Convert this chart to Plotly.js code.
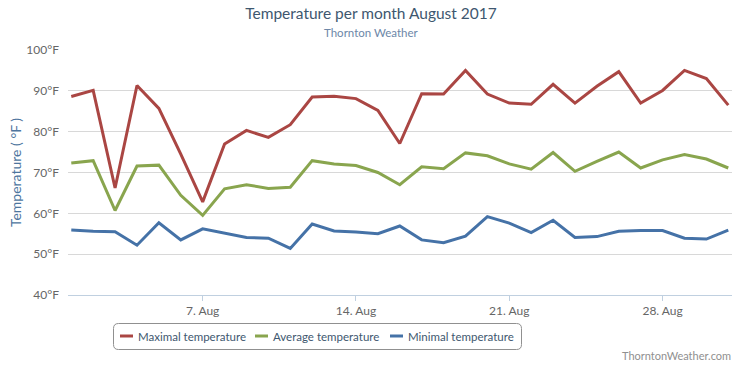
<!DOCTYPE html>
<html>
<head>
<meta charset="utf-8">
<script src="https://cdn.plot.ly/plotly-3.0.1.min.js"></script>
<style>
  html, body { margin: 0; padding: 0; background: #ffffff; }
  #chart { width: 741px; height: 365px; }
</style>
</head>
<body>
<div id="chart"></div>
<script>
// ---- data ----
var days = [1,2,3,4,5,6,7,8,9,10,11,12,13,14,15,16,17,18,19,20,21,22,23,24,25,26,27,28,29,30,31];
var maxTemp = [88.6, 90.1, 66.2, 91.3, 85.7, 74.5, 62.8, 77.0, 80.3, 78.6, 81.7, 88.5, 88.7, 88.1, 85.2, 77.1,
               89.3, 89.2, 95.0, 89.2, 87.0, 86.7, 91.6, 87.0, 91.1, 94.7, 87.0, 90.1, 95.0, 93.0, 86.5];
var avgTemp = [72.3, 72.9, 60.7, 71.6, 71.8, 64.4, 59.5, 66.0, 67.0, 66.1, 66.4, 72.9, 72.1, 71.7, 70.0, 67.0,
               71.4, 70.9, 74.8, 74.1, 72.1, 70.8, 74.9, 70.3, 72.7, 75.0, 71.1, 73.1, 74.4, 73.3, 71.1];
var minTemp = [55.9, 55.6, 55.5, 52.2, 57.7, 53.5, 56.2, 55.1, 54.1, 53.9, 51.4, 57.4, 55.7, 55.4, 55.0, 56.9,
               53.5, 52.8, 54.4, 59.2, 57.6, 55.3, 58.3, 54.1, 54.3, 55.6, 55.8, 55.8, 53.9, 53.7, 55.9];
var seriesNames = ["Maximal temperature", "Average temperature", "Minimal temperature"];
var xTickVals = [7, 14, 21, 28];
var xTickText = ["7. Aug", "14. Aug", "21. Aug", "28. Aug"];
var yTickVals = [40, 50, 60, 70, 80, 90, 100];
var yTickText = ["40°F", "50°F", "60°F", "70°F", "80°F", "90°F", "100°F"];

// ---- styling ----
var colors = ["#AA4643", "#89A54E", "#4572A7"];
var FONT = "Lato, 'Open Sans', sans-serif";

var W = 741, H = 365;
var M = {l: 68, r: 9, t: 50, b: 70};
var PW = W - M.l - M.r, PH = H - M.t - M.b;
function px(x) { return (x - M.l) / PW; }
function py(y) { return (H - M.b - y) / PH; }

var seriesData = [maxTemp, avgTemp, minTemp];
var traces = seriesData.map(function (vals, i) {
  return {
    x: days, y: vals, type: "scatter", mode: "lines",
    name: seriesNames[i],
    line: {color: colors[i], width: 3},
    hoverinfo: "skip", showlegend: false
  };
});

// rounded legend box
function roundRect(x0, y0, x1, y1, r) {
  return "M" + px(x0 + r) + "," + py(y0) +
         " L" + px(x1 - r) + "," + py(y0) +
         " Q" + px(x1) + "," + py(y0) + " " + px(x1) + "," + py(y0 + r) +
         " L" + px(x1) + "," + py(y1 - r) +
         " Q" + px(x1) + "," + py(y1) + " " + px(x1 - r) + "," + py(y1) +
         " L" + px(x0 + r) + "," + py(y1) +
         " Q" + px(x0) + "," + py(y1) + " " + px(x0) + "," + py(y1 - r) +
         " L" + px(x0) + "," + py(y0 + r) +
         " Q" + px(x0) + "," + py(y0) + " " + px(x0 + r) + "," + py(y0) + " Z";
}

var shapes = [{
  type: "path", xref: "paper", yref: "paper",
  path: roundRect(113.5, 323.5, 521.5, 349.5, 5),
  line: {color: "#909090", width: 1}, fillcolor: "rgba(0,0,0,0)"
}];
var annotations = [];
var legendX = [120, 255, 390];
var legendY = 336;
for (var i = 0; i < 3; i++) {
  shapes.push({
    type: "line", xref: "paper", yref: "paper",
    x0: px(legendX[i]), x1: px(legendX[i] + 13), y0: py(legendY), y1: py(legendY),
    line: {color: colors[i], width: 3}
  });
  annotations.push({
    xref: "paper", yref: "paper", x: px(legendX[i] + 16), y: py(legendY),
    xanchor: "left", yanchor: "middle", showarrow: false,
    text: seriesNames[i],
    font: {family: FONT, size: 11.5, color: "#3E576F"}
  });
}
annotations.push({
  xref: "paper", yref: "paper", x: px(371), y: py(32.5),
  xanchor: "center", yanchor: "middle", showarrow: false,
  text: "Thornton Weather",
  font: {family: FONT, size: 11.5, color: "#6D87A8"}
});
annotations.push({
  xref: "paper", yref: "paper", x: px(733), y: py(356),
  xanchor: "right", yanchor: "middle", showarrow: false,
  text: "ThorntonWeather.com",
  font: {family: FONT, size: 11, color: "#909090"}
});

var layout = {
  width: W, height: H,
  margin: M,
  paper_bgcolor: "#ffffff", plot_bgcolor: "#ffffff",
  title: {
    text: "Temperature per month August 2017",
    x: 371 / W, xref: "container", xanchor: "center",
    y: 1 - 14 / H, yref: "container", yanchor: "middle",
    font: {family: FONT, size: 15.5, color: "#3E576F"}
  },
  xaxis: {
    range: [0.85, 31.17],
    tickvals: xTickVals, ticktext: xTickText,
    ticks: "outside", ticklen: 5, tickcolor: "#C0D0E0", tickwidth: 1,
    showline: true, linecolor: "#C0D0E0", linewidth: 1,
    showgrid: false, zeroline: false, fixedrange: true,
    ticklabelstandoff: 0,
    tickfont: {family: FONT, size: 12, color: "#666666"}
  },
  yaxis: {
    range: [40, 100],
    tickvals: yTickVals, ticktext: yTickText,
    showgrid: true, gridcolor: "#D8D8D8", gridwidth: 1,
    showline: false, zeroline: false, ticks: "", ticklabelstandoff: 8,
    fixedrange: true,
    tickfont: {family: FONT, size: 12, color: "#666666"},
    title: {
      text: "Temperature ( °F )", standoff: 1,
      font: {family: FONT, size: 14, color: "#4D759E"}
    }
  },
  shapes: shapes,
  annotations: annotations,
  showlegend: false,
  hovermode: false
};

Plotly.newPlot("chart", traces, layout, {displayModeBar: false, staticPlot: true});
</script>
</body>
</html>
